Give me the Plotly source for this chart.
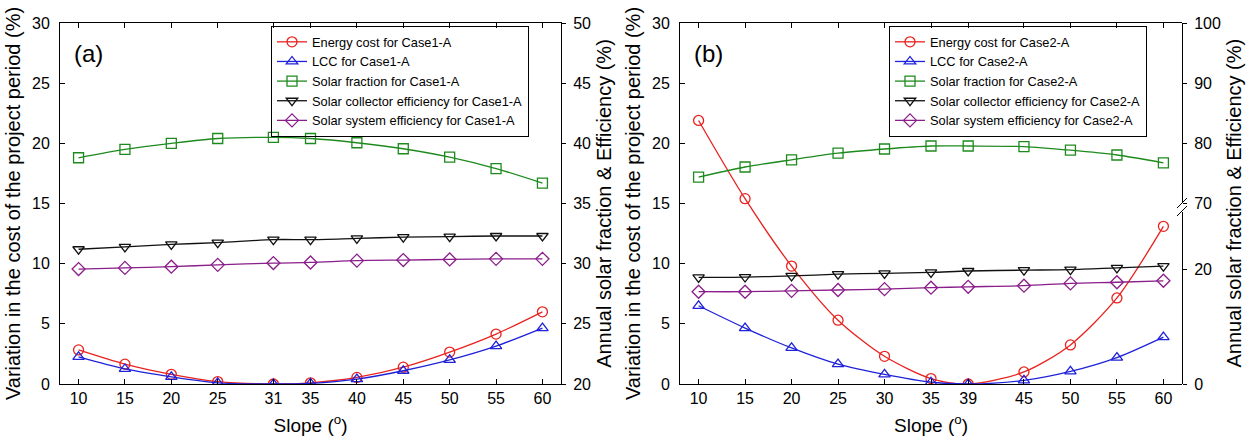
import plotly.graph_objects as go

# ---------------- data ----------------
slope_a = [10, 15, 20, 25, 31, 35, 40, 45, 50, 55, 60]
energy_a = [2.83, 1.65, 0.8, 0.2, 0.0, 0.1, 0.55, 1.4, 2.65, 4.15, 6.0]
lcc_a = [2.25, 1.25, 0.6, 0.1, 0.0, 0.05, 0.4, 1.1, 2.0, 3.15, 4.65]
sf_a = [38.8, 39.5, 40.0, 40.4, 40.5, 40.4, 40.05, 39.55, 38.85, 37.9, 36.7]
col_a = [31.2, 31.4, 31.6, 31.75, 32.0, 32.0, 32.1, 32.2, 32.25, 32.3, 32.3]
sys_a = [29.55, 29.65, 29.75, 29.9, 30.05, 30.1, 30.25, 30.3, 30.35, 30.4, 30.4]

slope_b = [10, 15, 20, 25, 30, 35, 39, 45, 50, 55, 60]
energy_b = [21.9, 15.4, 9.8, 5.3, 2.3, 0.45, 0.0, 1.0, 3.25, 7.15, 13.1]
lcc_b = [6.5, 4.65, 3.0, 1.65, 0.8, 0.15, 0.0, 0.3, 1.05, 2.2, 3.9]
sf_b = [74.3, 76.0, 77.2, 78.3, 79.0, 79.5, 79.5, 79.4, 78.8, 78.0, 76.7]
col_b = [18.55, 18.6, 18.8, 19.1, 19.25, 19.4, 19.65, 19.8, 19.9, 20.2, 20.5]
sys_b = [16.05, 16.05, 16.2, 16.35, 16.5, 16.75, 16.9, 17.1, 17.5, 17.7, 17.95]

names_a = ["Energy cost for Case1-A", "LCC for Case1-A", "Solar fraction for Case1-A",
           "Solar collector efficiency for Case1-A", "Solar system efficiency for Case1-A"]
names_b = ["Energy cost for Case2-A", "LCC for Case2-A", "Solar fraction for Case2-A",
           "Solar collector efficiency for Case2-A", "Solar system efficiency for Case2-A"]

left_ticks = [0, 5, 10, 15, 20, 25, 30]
right_a_ticks = [20, 25, 30, 35, 40, 45, 50]
right_b_upper_ticks = [70, 80, 90, 100]
right_b_lower_ticks = [0, 20]

# ---------------- style ----------------
FONT = "Liberation Sans, Arial, sans-serif"
colors = ["#e8231f", "#1f22d8", "#1e8a1e", "#111111", "#8a1e8a"]
symbols = ["circle-open", "triangle-up-open", "square-open", "triangle-down-open", "diamond-open"]

fig = go.Figure()

def add(x, y, i, name, xa, ya, leg):
    fig.add_trace(go.Scatter(
        x=x, y=y, name=name, mode="lines+markers",
        xaxis=xa, yaxis=ya, legend=leg,
        line=dict(color=colors[i], width=1.3, shape="spline", smoothing=0.8),
        marker=dict(symbol=symbols[i], size=10, color=colors[i],
                    line=dict(color=colors[i], width=1.3)),
    ))

# panel a
add(slope_a, energy_a, 0, names_a[0], "x", "y", "legend")
add(slope_a, lcc_a, 1, names_a[1], "x", "y", "legend")
add(slope_a, sf_a, 2, names_a[2], "x", "y2", "legend")
add(slope_a, col_a, 3, names_a[3], "x", "y2", "legend")
add(slope_a, sys_a, 4, names_a[4], "x", "y2", "legend")
# panel b
add(slope_b, energy_b, 0, names_b[0], "x2", "y3", "legend2")
add(slope_b, lcc_b, 1, names_b[1], "x2", "y3", "legend2")
add(slope_b, sf_b, 2, names_b[2], "x2", "y4", "legend2")
add(slope_b, col_b, 3, names_b[3], "x2", "y5", "legend2")
add(slope_b, sys_b, 4, names_b[4], "x2", "y5", "legend2")

W, H = 1250, 442
L, R, T, B = 60, 68, 23, 58
pw, ph = W - L - R, H - T - B

def px_x(p):
    return (p - L) / pw

def px_y(p):
    return (H - B - p) / ph

tickfont = dict(family=FONT, size=16, color="black")
titlefont = dict(family=FONT, size=20, color="black")

common_x = dict(range=[8, 62], showline=True, linecolor="black", linewidth=1,
                ticks="inside", ticklen=5, tickcolor="black", mirror="ticks",
                showgrid=False, zeroline=False, tickfont=tickfont, automargin=False,
                title=dict(text="Slope (<sup>o</sup>)", font=dict(family=FONT, size=19, color="black"), standoff=12))

common_yl = dict(range=[0, 30], tickvals=left_ticks, showline=True, linecolor="black",
                 ticks="inside", ticklen=5, tickcolor="black", showgrid=False, zeroline=False,
                 tickfont=tickfont, ticklabelstandoff=6, automargin=False,
                 title=dict(text="Variation in the cost of the project period (%)", font=titlefont, standoff=6))

right_common = dict(showline=True, linecolor="black", ticks="outside", ticklen=4,
                    tickcolor="black", showgrid=False, zeroline=False, tickfont=tickfont,
                    side="right", ticklabelstandoff=4, automargin=False)

xa_dom = [0, px_x(561)]
xb_dom = [px_x(680), 1]

legfont = dict(family=FONT, size=12.8, color="black")

fig.update_layout(
    width=W, height=H, margin=dict(l=L, r=R, t=T, b=B),
    paper_bgcolor="white", plot_bgcolor="rgba(0,0,0,0)",
    font=dict(family=FONT, color="black"),
    xaxis=dict(domain=xa_dom, anchor="y",
               tickvals=slope_a, **common_x),
    yaxis=dict(domain=[0, 1], anchor="x", **common_yl),
    yaxis2=dict(overlaying="y", anchor="x", range=[20, 50], tickvals=right_a_ticks,
                title=dict(text="Annual solar fraction & Efficiency (%)", font=titlefont, standoff=6),
                **right_common),
    xaxis2=dict(domain=xb_dom, anchor="y3",
                tickvals=slope_b, **common_x),
    yaxis3=dict(domain=[0, 1], anchor="x2", **common_yl),
    yaxis4=dict(domain=[px_y(203), 1], anchor="x2", range=[70, 100],
                tickvals=right_b_upper_ticks, **right_common),
    yaxis5=dict(domain=[0, px_y(211.5)], anchor="x2", range=[0, 30],
                tickvals=right_b_lower_ticks, **right_common),
    legend=dict(x=px_x(271), y=px_y(26), xanchor="left", yanchor="top",
                bordercolor="black", borderwidth=1, bgcolor="rgba(255,255,255,0)",
                font=legfont, tracegroupgap=0),
    legend2=dict(x=px_x(889), y=px_y(26), xanchor="left", yanchor="top",
                 bordercolor="black", borderwidth=1, bgcolor="rgba(255,255,255,0)",
                 font=legfont, tracegroupgap=0),
    showlegend=True,
)

# panel labels and right title of panel b (split axis)
fig.add_annotation(text="(a)", xref="paper", yref="paper", x=px_x(72), y=px_y(54),
                   xanchor="left", yanchor="middle", showarrow=False,
                   font=dict(family=FONT, size=24, color="black"))
fig.add_annotation(text="(b)", xref="paper", yref="paper", x=px_x(692), y=px_y(54),
                   xanchor="left", yanchor="middle", showarrow=False,
                   font=dict(family=FONT, size=24, color="black"))
fig.add_annotation(text="Annual solar fraction & Efficiency (%)", xref="paper", yref="paper",
                   x=px_x(1233), y=0.5, xanchor="center", yanchor="middle", textangle=-90,
                   showarrow=False, font=titlefont)

# axis break marks on panel b right axis
for yc in (203, 211):
    fig.add_shape(type="line", xref="paper", yref="paper",
                  x0=px_x(1177), y0=px_y(yc + 5), x1=px_x(1187), y1=px_y(yc - 5),
                  line=dict(color="black", width=1))

fig.write_html("out.html")
